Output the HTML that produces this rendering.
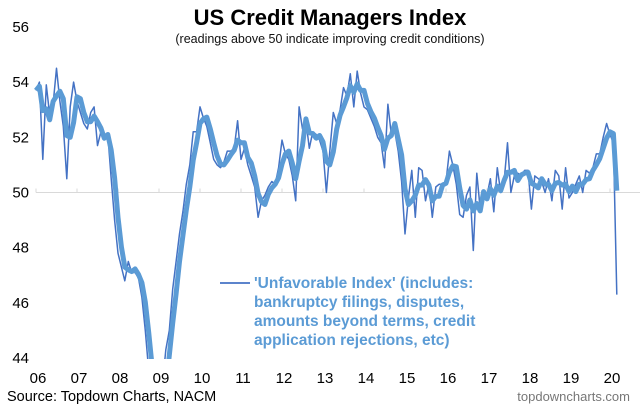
<!DOCTYPE html>
<html><head><meta charset="utf-8"><style>
body{margin:0;background:#fff;}
svg{display:block;font-family:"Liberation Sans",Arial,sans-serif;}
</style></head><body>
<svg width="640" height="410" viewBox="0 0 640 410">
<defs><clipPath id="plot"><rect x="30" y="26" width="610" height="333"/></clipPath></defs>
<text x="330" y="25" text-anchor="middle" font-size="22" font-weight="bold" fill="#000">US Credit Managers Index</text>
<text x="330" y="43" text-anchor="middle" font-size="12.5" fill="#111">(readings above 50 indicate improving credit conditions)</text>
<g id="yaxis"></g>
<g id="xaxis"></g>
<g clip-path="url(#plot)" id="series"></g>
<line x1="220" y1="283" x2="250" y2="283" stroke="#4472C4" stroke-width="1.8"/>
<g font-size="15.5" font-weight="bold" fill="#5B9BD5">
<text x="254" y="288">'Unfavorable Index' (includes:</text>
<text x="254" y="307">bankruptcy filings, disputes,</text>
<text x="254" y="326">amounts beyond terms, credit</text>
<text x="254" y="345">application rejections, etc)</text>
</g>
<text x="7" y="401" font-size="14.5" fill="#000">Source: Topdown Charts, NACM</text>
<text x="630" y="401" text-anchor="end" font-size="13" fill="#777">topdowncharts.com</text>
</svg>
<script>
const yTicks=[44,46,48,50,52,54,56];
const xLabels=['06','07','08','09','10','11','12','13','14','15','16','17','18','19','20'];
const raw2006=[53.7,54.0,51.2,53.9,52.8,53.2,54.5,53.3,52.4,50.5,53.1,54.0];
const raw2007=[53.3,52.9,52.5,52.3,52.9,53.1,51.7,52.2,52.0,52.1,50.5,49.0];
const raw2008=[47.8,47.3,46.8,47.5,47.1,47.1,46.9,46.2,45.0,43.5,42.5,41.5];
const raw2009=[41.5,43.0,44.3,45.0,46.5,47.5,48.5,49.3,50.3,51.0,52.2,52.2];
const raw2010=[53.1,52.7,52.4,51.8,51.2,51.0,50.9,51.1,51.5,51.5,51.6,52.6];
const raw2011=[51.2,51.6,51.0,50.6,50.2,49.1,49.7,49.9,50.2,50.4,50.3,50.9];
const raw2012=[51.9,51.4,51.2,50.6,49.7,53.1,52.3,52.6,51.6,52.2,52.1,51.9];
const raw2013=[51.5,50.0,51.5,52.9,52.5,53.0,53.8,53.5,54.3,53.1,54.4,53.6];
const raw2014=[53.1,53.0,52.7,52.4,52.0,51.8,50.9,53.2,52.1,52.2,51.5,50.4];
const raw2015=[48.5,49.8,50.8,49.1,50.9,50.8,49.7,50.3,49.1,50.2,50.3,50.3];
const raw2016=[50.4,51.5,51.0,50.3,49.2,49.1,49.9,50.2,47.9,50.7,49.4,50.0];
const raw2017=[49.9,50.5,49.3,50.9,50.0,50.4,51.8,50.0,50.6,50.7,50.6,50.8];
const raw2018=[50.8,49.4,50.6,50.5,50.4,50.0,50.5,49.7,50.8,50.6,49.4,50.9];
const raw2019=[49.8,50.0,50.3,50.6,50.0,50.8,50.7,50.9,51.4,51.4,52.0,52.5];
const raw2020=[52.1,51.8,46.3];
const rawValues=[].concat(raw2006,raw2007,raw2008,raw2009,raw2010,raw2011,raw2012,raw2013,raw2014,raw2015,raw2016,raw2017,raw2018,raw2019,raw2020);

const NS='http://www.w3.org/2000/svg';
function yScale(v){return 192.5-(v-50)*27.6;}
function xScale(i){return 36+i*41/12;}
const yg=document.getElementById('yaxis');
yTicks.forEach(t=>{
  const tx=document.createElementNS(NS,'text');
  
  
  tx.setAttribute('x',29);tx.setAttribute('y',yScale(t)+5);
  tx.setAttribute('text-anchor','end');tx.setAttribute('font-size','15');
  tx.textContent=t;yg.appendChild(tx);
});
const xg=document.getElementById('xaxis');
const base=document.createElementNS(NS,'line');


base.setAttribute('x1',xScale(0));base.setAttribute('x2',xScale(xLabels.length*12));
base.setAttribute('y1',yScale(50));base.setAttribute('y2',yScale(50));
base.setAttribute('stroke','#d9d9d9');base.setAttribute('stroke-width','1');
xg.appendChild(base);
xLabels.forEach((l,k)=>{
  const tk=document.createElementNS(NS,'line');
  
  
  tk.setAttribute('x1',xScale(k*12));tk.setAttribute('x2',xScale(k*12));
  tk.setAttribute('y1',yScale(50)-4);tk.setAttribute('y2',yScale(50));
  tk.setAttribute('stroke','#d9d9d9');xg.appendChild(tk);
  const tx=document.createElementNS(NS,'text');
  
  
  tx.setAttribute('x',xScale(k*12)+2);tx.setAttribute('y',383);
  tx.setAttribute('text-anchor','middle');tx.setAttribute('font-size','15');
  tx.textContent=l;xg.appendChild(tx);
});
// 3-month moving average of the raw series (thick line)
const smooth=rawValues.map((v,i)=>{const a=rawValues.slice(Math.max(0,i-2),i+1);return a.reduce((s,x)=>s+x,0)/a.length;});
function pathOf(arr){return arr.map((v,i)=>(i?'L':'M')+xScale(i).toFixed(1)+','+yScale(v).toFixed(1)).join(' ');}
const sg=document.getElementById('series');
const thin=document.createElementNS(NS,'path');


thin.setAttribute('d',pathOf(rawValues));thin.setAttribute('fill','none');
thin.setAttribute('stroke','#4472C4');thin.setAttribute('stroke-width','1.5');thin.setAttribute('stroke-linejoin','round');
sg.appendChild(thin);
const thick=document.createElementNS(NS,'path');


thick.setAttribute('d',pathOf(smooth));thick.setAttribute('fill','none');
thick.setAttribute('stroke','#5B9BD5');thick.setAttribute('stroke-width','5');thick.setAttribute('stroke-linejoin','round');
sg.appendChild(thick);
</script>
</body></html>
